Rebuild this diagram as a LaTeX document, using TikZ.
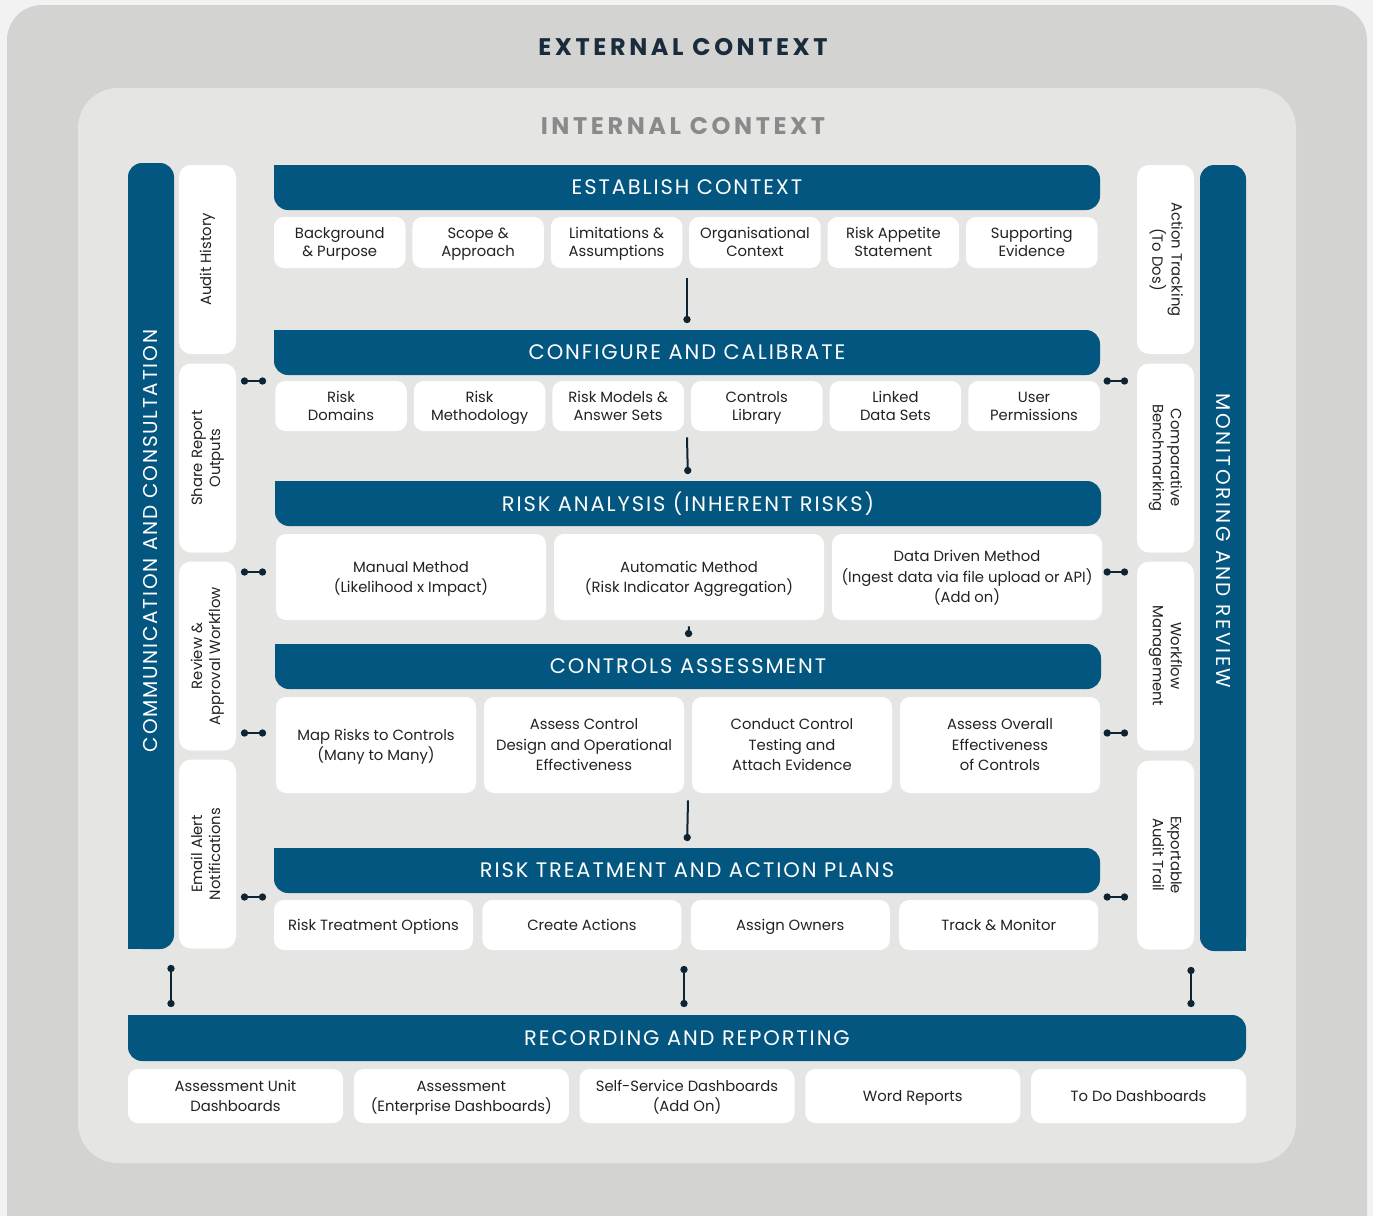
\documentclass[tikz,border=0pt]{standalone}
\usepackage{fontspec}
\setmainfont{Poppins}
\newfontfamily\barfont[LetterSpace=9]{Poppins}
\newfontfamily\headfont[LetterSpace=15]{Poppins}
\usetikzlibrary{arrows.meta}

\definecolor{pagebg}{HTML}{F2F2F2}
\definecolor{outergrey}{HTML}{D3D3D2}
\definecolor{innergrey}{HTML}{E5E5E4}
\definecolor{riskblue}{HTML}{03567F}
\definecolor{linknavy}{HTML}{0E2433}
\definecolor{headnavy}{HTML}{1A2B3C}
\definecolor{headgrey}{HTML}{8A8A8A}
\definecolor{bodytext}{HTML}{222222}

\newcommand{\vlabel}[2]{\rotatebox{#1}{\begin{tabular}{@{}c@{}}#2\end{tabular}}}
% text between even struts, so one and more lines sit centred
\newcommand{\boxtext}[1]{\rule{0pt}{7.9pt}#1\rule[-2.7pt]{0pt}{2.7pt}}

\tikzset{
  bar/.style={fill=riskblue, text=white, rounded corners=7pt, inner sep=0pt,
    font=\barfont\fontsize{10.5}{12}\selectfont},
  hbar/.style={bar, minimum width=413pt, minimum height=22.5pt},
  vbar/.style={bar, minimum width=23pt, minimum height=393pt, font=\barfont\fontsize{10}{12}\selectfont},
  sub/.style={fill=white, rounded corners=5pt, inner sep=0pt, align=center,
    text=bodytext, font=\fontsize{7.4}{9}\selectfont},
  rowa/.style={sub, minimum width=65.75pt, minimum height=25.5pt},
  rowc/.style={sub, minimum width=135pt, minimum height=43pt, font=\fontsize{7.4}{10.2}\selectfont},
  rowd/.style={sub, minimum width=100pt, minimum height=48pt, font=\fontsize{7.4}{10.2}\selectfont},
  rowe/.style={sub, minimum width=99.5pt, minimum height=25pt},
  rowf/.style={sub, minimum width=107.5pt, minimum height=27pt, font=\fontsize{7.4}{10}\selectfont},
  sidebox/.style={fill=white, rounded corners=6pt, inner sep=0pt, text=bodytext,
    font=\fontsize{7.4}{9}\selectfont, minimum width=28.5pt, minimum height=94.5pt},
  link/.style={draw=linknavy, line width=1pt, -{Circle[length=3.6pt]}},
  dumb/.style={draw=linknavy, line width=1pt, {Circle[length=3.6pt]}-{Circle[length=3.6pt]}},
}

\begin{document}
\begin{tikzpicture}[x=0.5pt,y=-0.5pt]
  \fill[pagebg] (0,0) rectangle (1373,1216);
  \useasboundingbox (0,0) rectangle (1373,1216);

  % external and internal context
  \fill[outergrey, rounded corners=17.5pt] (7,5) rectangle (1367,1270);
  \fill[innergrey, rounded corners=20pt] (78,88) rectangle (1296,1163);
  \node[text=headnavy, font=\headfont\bfseries\fontsize{12}{14}\selectfont] (ext) at (683,47) {EXTERNAL CONTEXT};
  \node[text=headgrey, font=\headfont\bfseries\fontsize{12}{14}\selectfont] (int) at (683,126) {INTERNAL CONTEXT};

  % side bars
  \node[vbar] (lbar) at (151,556) {\rotatebox{90}{\hspace{15pt}COMMUNICATION AND CONSULTATION}};
  \node[vbar] (rbar) at (1223,558) {\rotatebox{-90}{\addfontfeatures{LetterSpace=13}MONITORING AND REVIEW\hspace{17pt}}};
  \fill[riskblue] (lbar.south west) rectangle ++(16,-16);
  \fill[riskblue] (rbar.south east) rectangle ++(-16,-16);

  % side boxes
  \node[sidebox] (ls1) at (207.5,259.5) {\vlabel{90}{Audit History}};
  \node[sidebox] (ls2) at (207.5,458) {\vlabel{90}{Share Report\\Outputs}};
  \node[sidebox] (ls3) at (207.5,656) {\vlabel{90}{Review \&\\Approval Workflow}};
  \node[sidebox] (ls4) at (207.5,854) {\vlabel{90}{Email Alert\\Notifications}};
  \node[sidebox] (rs1) at (1165.5,259.5) {\vlabel{-90}{Action Tracking\\(To Dos)}};
  \node[sidebox] (rs2) at (1165.5,458) {\vlabel{-90}{Comparative\\Benchmarking}};
  \node[sidebox] (rs3) at (1165.5,656) {\vlabel{-90}{Workflow\\Management}};
  \node[sidebox] (rs4) at (1165.5,855) {\vlabel{-90}{Exportable\\Audit Trail}};

  % establish context
  \node[hbar] (ecbar) at (687,187.5) {ESTABLISH CONTEXT};
  \foreach \t [count=\i from 0] in {Background\\\& Purpose, Scope \&\\Approach,
      Limitations \&\\Assumptions, Organisational\\Context, Risk Appetite\\Statement,
      Supporting\\Evidence}
    \node[rowa] (ec\i) at (339.75+138.4*\i,242.5) {\boxtext{\t}};

  % configure and calibrate
  \node[hbar] (ccbar) at (687,352.5) {CONFIGURE AND CALIBRATE};
  \foreach \t [count=\i from 0] in {Risk\\Domains, Risk\\Methodology,
      Risk Models \&\\Answer Sets, Controls\\Library, Linked\\Data Sets, User\\Permissions}
    \node[rowa, minimum height=25pt] (cc\i) at (341+138.6*\i,406) {\boxtext{\t}};

  % risk analysis
  \node[hbar] (rabar) at (688,503.5) {RISK ANALYSIS (INHERENT RISKS)};
  \node[rowc] (ra0) at (411,577) {\boxtext{Manual Method\\(Likelihood x Impact)}};
  \node[rowc] (ra1) at (689,577) {\boxtext{Automatic Method\\(Risk Indicator Aggregation)}};
  \node[rowc] (ra2) at (967,577) {\boxtext{Data Driven Method\\(Ingest data via file upload or API)\\(Add on)}};

  % controls assessment
  \node[hbar] (cabar) at (688,666.5) {CONTROLS ASSESSMENT};
  \foreach \t [count=\i from 0] in {Map Risks to Controls\\(Many to Many),
      Assess Control\\Design and Operational\\Effectiveness,
      Conduct Control\\Testing and\\Attach Evidence,
      Assess Overall\\Effectiveness\\of Controls}
    \node[rowd] (ca\i) at (376+208*\i,745) {\boxtext{\t}};

  % risk treatment
  \node[hbar] (rtbar) at (687,870.5) {RISK TREATMENT AND ACTION PLANS};
  \foreach \t [count=\i from 0] in {Risk Treatment Options, Create Actions,
      Assign Owners, Track \& Monitor}
    \node[rowe] (rt\i) at (373.5+208.4*\i,925) {\boxtext{\t}};

  % recording and reporting
  \node[bar, minimum width=559pt, minimum height=23pt] (rrbar) at (687,1038) {RECORDING AND REPORTING};
  \foreach \t [count=\i from 0] in {Assessment Unit\\Dashboards,
      Assessment\\(Enterprise Dashboards), Self-Service Dashboards\\(Add On),
      Word Reports, To Do Dashboards}
    \node[rowf] (rr\i) at (235.5+225.75*\i,1096) {\boxtext{\t}};

  \foreach \b in {ecbar,ccbar,rabar,cabar,rtbar,rrbar}
    \fill[riskblue] (\b.north west) rectangle ++(16,16);

  % links down the middle
  \draw[link, shorten >=3.25pt] ([yshift=-5pt]ec2.south -| ecbar.south) -- (ccbar.north);
  \draw[link, shorten >=3.25pt] ([yshift=-3pt]cc2.south -| ccbar.south) -- (rabar.north);
  \draw[link, shorten >=3.25pt] ([yshift=-3pt]ra1.south) -- (cabar.north);
  \draw[link, shorten >=3.25pt] ([yshift=-3.5pt]ca1.south -| cabar.south) -- (rtbar.north);

  % side links
  \foreach \y in {381,572,733,897} {
    \draw[dumb, shorten <=2.25pt, shorten >=3.75pt] (ls1.east |- 0,\y) -- (ccbar.west |- 0,\y);
    \draw[dumb, shorten <=1.6pt, shorten >=4.25pt] (ccbar.east |- 0,\y) -- (rs1.west |- 0,\y);
  }

  % links to recording
  \draw[dumb, shorten <=7.75pt, shorten >=3.75pt] ([xshift=10pt]lbar.south) -- ([xshift=10pt]lbar.south |- rrbar.north);
  \draw[dumb, shorten <=7.75pt, shorten >=3.75pt] ([xshift=-1.5pt]rrbar.north |- rt1.south) -- ([xshift=-1.5pt]rrbar.north);
  \draw[dumb, shorten <=7.75pt, shorten >=3.75pt] ([xshift=-16pt]rbar.south) -- ([xshift=-16pt]rbar.south |- rrbar.north);
\end{tikzpicture}
\end{document}
